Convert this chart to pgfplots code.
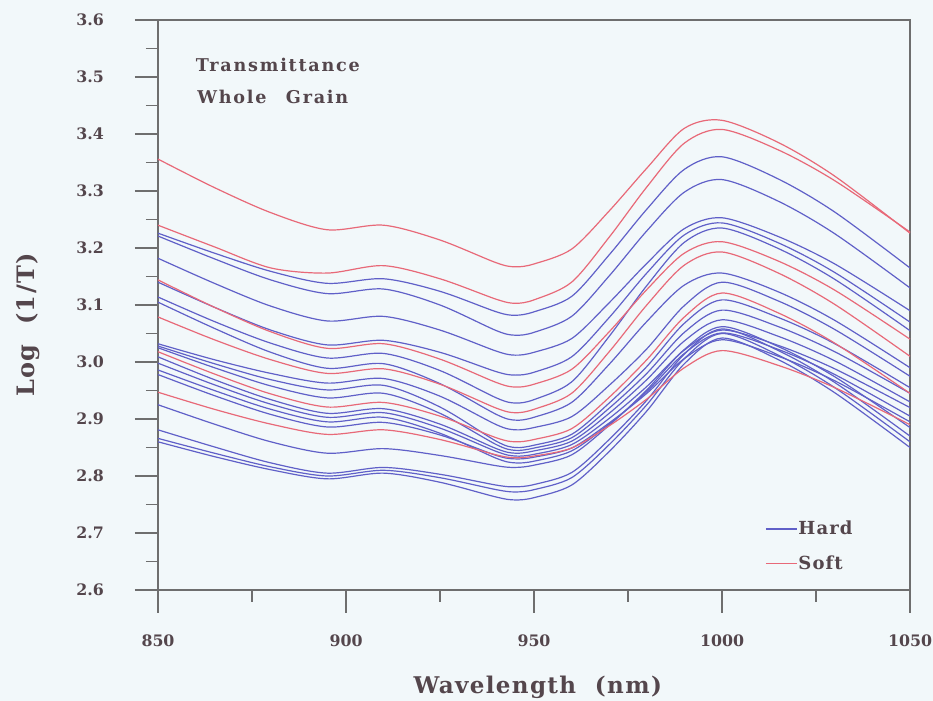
\documentclass[border=0pt]{standalone}
\usepackage{fontspec}
\setmainfont{DejaVu Serif}
\newfontfamily\spaced{DejaVu Serif}[LetterSpace=6.0]
\newfontfamily\wide{DejaVu Serif}[LetterSpace=10.0]
\usepackage{pgfplots}
\pgfplotsset{compat=1.18}
\usepackage{pgfplotstable}
\definecolor{bg}{RGB}{242,248,250}
\definecolor{txt}{RGB}{84,70,76}
\definecolor{ax}{RGB}{110,110,110}
\definecolor{hard}{RGB}{96,96,200}
\definecolor{soft}{RGB}{232,105,120}

\pgfplotstableread{
x c1 c2 c3 c4 c5 c6 c7 c8 c9 c10 c11 c12 c13 c14 c15 c16 c17 c18 c19 c20 c21 c22 c23
850 3.356 3.240 3.226 3.221 3.182 3.140 3.144 3.114 3.105 3.079 3.032 3.028 3.025 3.018 3.009 2.998 2.986 2.978 2.947 2.925 2.881 2.866 2.860
865 3.306 3.202 3.191 3.181 3.138 3.096 3.096 3.071 3.059 3.039 3.004 2.997 2.990 2.979 2.969 2.960 2.950 2.941 2.917 2.891 2.851 2.840 2.834
880 3.262 3.165 3.159 3.144 3.098 3.056 3.053 3.033 3.017 3.004 2.980 2.969 2.958 2.944 2.934 2.926 2.917 2.908 2.891 2.860 2.823 2.816 2.811
895 3.232 3.156 3.138 3.120 3.072 3.030 3.024 3.007 2.989 2.980 2.963 2.951 2.937 2.921 2.910 2.903 2.895 2.886 2.873 2.840 2.805 2.800 2.795
910 3.240 3.169 3.146 3.128 3.080 3.038 3.032 3.015 2.997 2.988 2.971 2.959 2.945 2.929 2.918 2.911 2.903 2.894 2.881 2.848 2.815 2.810 2.805
925 3.214 3.146 3.124 3.100 3.056 3.017 3.005 2.985 2.962 2.961 2.940 2.921 2.910 2.905 2.891 2.884 2.875 2.872 2.864 2.836 2.803 2.797 2.789
940 3.174 3.110 3.088 3.055 3.019 2.983 2.964 2.937 2.908 2.919 2.890 2.861 2.855 2.867 2.848 2.843 2.831 2.836 2.837 2.818 2.784 2.776 2.763
945 3.167 3.103 3.082 3.047 3.012 2.977 2.956 2.928 2.898 2.911 2.881 2.850 2.845 2.860 2.840 2.835 2.823 2.830 2.832 2.815 2.781 2.772 2.758
950 3.172 3.109 3.088 3.052 3.017 2.982 2.961 2.934 2.903 2.917 2.885 2.854 2.849 2.864 2.844 2.838 2.826 2.833 2.835 2.819 2.785 2.776 2.762
960 3.198 3.140 3.115 3.080 3.041 3.009 2.987 2.965 2.929 2.945 2.904 2.873 2.867 2.883 2.861 2.855 2.844 2.849 2.849 2.837 2.806 2.797 2.784
970 3.265 3.219 3.188 3.151 3.104 3.078 3.053 3.045 2.996 3.018 2.959 2.928 2.919 2.938 2.910 2.901 2.891 2.893 2.888 2.889 2.864 2.855 2.843
980 3.340 3.307 3.268 3.230 3.173 3.156 3.127 3.134 3.071 3.100 3.023 2.992 2.980 3.004 2.969 2.957 2.948 2.945 2.935 2.951 2.933 2.925 2.914
990 3.410 3.384 3.338 3.298 3.234 3.223 3.191 3.210 3.135 3.170 3.099 3.068 3.052 3.079 3.037 3.021 3.015 3.006 2.990 3.022 3.014 3.006 2.997
1000 3.424 3.408 3.360 3.320 3.253 3.244 3.211 3.235 3.156 3.193 3.140 3.109 3.091 3.121 3.074 3.056 3.051 3.039 3.020 3.062 3.058 3.050 3.042
1015 3.385 3.372 3.321 3.282 3.220 3.209 3.177 3.199 3.123 3.156 3.107 3.078 3.062 3.086 3.045 3.029 3.022 3.010 2.994 3.027 3.020 3.012 3.004
1030 3.326 3.318 3.263 3.225 3.172 3.157 3.126 3.145 3.073 3.101 3.057 3.032 3.018 3.033 3.002 2.988 2.978 2.967 2.955 2.974 2.964 2.955 2.946
1050 3.226 3.228 3.165 3.130 3.090 3.070 3.040 3.055 2.990 3.010 2.975 2.955 2.945 2.945 2.930 2.920 2.905 2.895 2.890 2.885 2.870 2.860 2.850
}\spectra

\begin{document}
\begin{tikzpicture}
\fill[bg] (-79pt,-55.5pt) rectangle (387.5pt,295pt);
\begin{axis}[
  scale only axis, width=376pt, height=285pt,
  at={(0,0)}, anchor=south west,
  xmin=850, xmax=1050, ymin=2.6, ymax=3.6,
  xtick={850,900,950,1000,1050},
  ytick={2.6,2.7,2.8,2.9,3.0,3.1,3.2,3.3,3.4,3.5,3.6},
  minor x tick num=1, minor y tick num=1,
  tick pos=left, tick align=outside,
  major tick length=11.5pt, minor tick length=6pt,
  axis line style={ax, line width=0.6pt},
  every tick/.style={ax, line width=0.6pt},
  /pgf/number format/assume math mode=true,
  ticklabel style={font=\bfseries\fontsize{7.9}{9}\selectfont, text=txt},
  yticklabel style={/pgf/number format/.cd, fixed, fixed zerofill, precision=1},
  xticklabel style={/pgf/number format/.cd, 1000 sep={}},
  yticklabel shift=12pt, xticklabel shift=7.5pt,
  xlabel={\spaced\bfseries Wavelength~~(nm)},
  ylabel={\spaced\bfseries Log~~(1/T)},
  xlabel style={font=\fontsize{11.5}{13}\selectfont, text=txt, at={(rel axis cs:0.505,0)}, anchor=center, yshift=-48.5pt},
  ylabel style={font=\fontsize{12}{13}\selectfont, text=txt, at={(rel axis cs:0,0.465)}, anchor=center, xshift=0pt, yshift=65pt},
  clip=false,
  legend cell align=left,
  legend image code/.code={\draw[#1] (0pt,0pt) -- (15.5pt,0pt);},
  legend style={draw=none, fill=none, at={(rel axis cs:0.807,0.124)}, anchor=north west,
    font=\spaced\bfseries\fontsize{9}{10}\selectfont, text=txt, row sep=8pt, inner sep=0pt,
    nodes={inner sep=0.5pt}},
]
\pgfplotsinvokeforeach{3,4,5,6,8,9,11,12,13,15,16,17,18,20,21,22,23}{
  \addplot[hard, line width=0.6pt, smooth, forget plot] table[x=x, y=c#1] {\spectra};
}
\pgfplotsinvokeforeach{1,2,7,10,14,19}{
  \addplot[soft, line width=0.6pt, smooth, forget plot] table[x=x, y=c#1] {\spectra};
}
\addlegendimage{hard, line width=0.6pt}
\addlegendentry{Hard}
\addlegendimage{soft, line width=0.6pt}
\addlegendentry{Soft}
\node[anchor=west, text=txt, font=\wide\bfseries\fontsize{8.8}{10}\selectfont] at (rel axis cs:0.041,0.921) {Transmittance};
\node[anchor=west, text=txt, font=\wide\bfseries\fontsize{8.8}{10}\selectfont] at (rel axis cs:0.043,0.865) {Whole\hspace{1.1em}Grain};
\end{axis}
\pgfresetboundingbox
\useasboundingbox (-79pt,-55.5pt) rectangle (387.5pt,295pt);
\end{tikzpicture}
\end{document}
